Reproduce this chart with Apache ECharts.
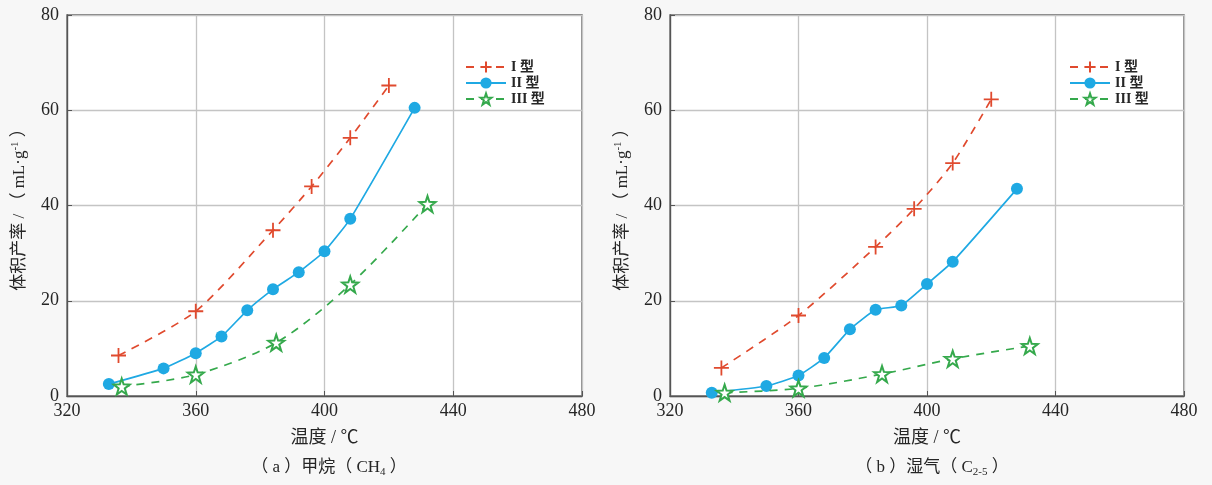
<!DOCTYPE html>
<html>
<head>
<meta charset="utf-8">
<script src="https://cdn.jsdelivr.net/npm/echarts@6/dist/echarts.min.js"></script>
<style>
  html, body { margin: 0; padding: 0; background: #f7f7f7; }
  #chart { width: 1212px; height: 485px; }
</style>
</head>
<body>
<div id="chart"></div>
<script>
// Volume yield (mL/g) versus temperature for three kerogen types
const xTicks = [320, 360, 400, 440, 480];
const yTicks = [0, 20, 40, 60, 80];
const seriesNames = ['I 型', 'II 型', 'III 型'];

// (a) methane, CH4
const ch4TempI = [336, 360, 384, 396, 408, 420];
const ch4YieldI = [8.5, 17.8, 34.8, 44.0, 54.2, 65.2];
const ch4TempII = [333, 350, 360, 368, 376, 384, 392, 400, 408, 428];
const ch4YieldII = [2.5, 5.8, 9.0, 12.5, 18.0, 22.4, 26.0, 30.4, 37.2, 60.5];
const ch4TempIII = [337, 360, 385, 408, 432];
const ch4YieldIII = [2.0, 4.5, 11.2, 23.4, 40.3];

// (b) wet gas, C2-5
const wetTempI = [336, 360, 384, 396, 408, 420];
const wetYieldI = [5.9, 16.9, 31.3, 39.3, 48.9, 62.3];
const wetTempII = [333, 350, 360, 368, 376, 384, 392, 400, 408, 428];
const wetYieldII = [0.7, 2.1, 4.3, 8.0, 14.0, 18.1, 19.0, 23.5, 28.2, 43.5];
const wetTempIII = [337, 360, 386, 408, 432];
const wetYieldIII = [0.7, 1.6, 4.6, 7.8, 10.5];

const serif = '"Liberation Serif", "Noto Sans CJK SC", serif';
const TEXT = '#262626';
const RED = '#e04a2e', BLUE = '#1fa9e3', GREEN = '#35a94c';
const plusPath = 'path://M5,0 L5,10 M0,5 L10,5';
const starPath = 'path://M50,0 L61.8,36.2 L100,38.2 L69.1,61.8 L80.9,100 L50,77.6 L19.1,100 L30.9,61.8 L0,38.2 L38.2,36.2 Z';

function pairs(xs, ys) { return xs.map((x, i) => [x, ys[i]]); }

const grids = [
  { left: 67, top: 15, width: 515, height: 381 },
  { left: 670, top: 15, width: 514, height: 381 }
];

function xAxis(i) {
  return {
    type: 'value', gridIndex: i, min: xTicks[0], max: xTicks[xTicks.length - 1],
    interval: xTicks[1] - xTicks[0],
    name: '温度 / ℃', nameLocation: 'middle', nameGap: 33,
    nameTextStyle: { fontFamily: serif, fontSize: 18, color: TEXT },
    axisLine: { show: true, lineStyle: { color: '#555', width: 1.3 } },
    axisTick: { show: true, inside: true, length: 5, lineStyle: { color: '#555' } },
    axisLabel: { fontFamily: serif, fontSize: 18, color: TEXT, margin: 6 },
    splitLine: { show: true, lineStyle: { color: '#c4c4c4', width: 1.3 } }
  };
}
function yAxis(i) {
  return {
    type: 'value', gridIndex: i, min: yTicks[0], max: yTicks[yTicks.length - 1],
    interval: yTicks[1] - yTicks[0],
    name: '体积产率 / （ mL·g{sup|-1} ）', nameLocation: 'middle', nameGap: 38,
    nameTextStyle: {
      fontFamily: serif, fontSize: 17, color: TEXT,
      rich: { sup: { fontFamily: serif, fontSize: 11, color: TEXT, verticalAlign: 'top', padding: [0, 0, 8, 0] } }
    },
    axisLine: { show: true, lineStyle: { color: '#555', width: 1.3 } },
    axisTick: { show: true, inside: true, length: 5, lineStyle: { color: '#555' } },
    axisLabel: { fontFamily: serif, fontSize: 18, color: TEXT, margin: 8 },
    splitLine: { show: true, lineStyle: { color: '#c4c4c4', width: 1.3 } }
  };
}

function seriesFor(i, tI, vI, tII, vII, tIII, vIII) {
  return [
    {
      name: seriesNames[0], type: 'line', xAxisIndex: i, yAxisIndex: i,
      data: pairs(tI, vI), smooth: 0.25,
      symbol: plusPath, symbolSize: 15,
      lineStyle: { color: RED, width: 1.7, type: [8, 7] },
      itemStyle: { color: RED, borderColor: RED, borderWidth: 1.8 },
      z: 3
    },
    {
      name: seriesNames[1], type: 'line', xAxisIndex: i, yAxisIndex: i,
      data: pairs(tII, vII), smooth: 0.15,
      symbol: 'circle', symbolSize: 12,
      lineStyle: { color: BLUE, width: 1.7 },
      itemStyle: { color: BLUE, borderWidth: 0 },
      z: 2
    },
    {
      name: seriesNames[2], type: 'line', xAxisIndex: i, yAxisIndex: i,
      data: pairs(tIII, vIII), smooth: 0.3,
      symbol: starPath, symbolSize: 16,
      lineStyle: { color: GREEN, width: 1.7, type: [8, 7] },
      itemStyle: { color: '#ffffff', borderColor: GREEN, borderWidth: 2 },
      z: 3
    }
  ];
}

function legend(left) {
  return {
    data: seriesNames,
    left: left, top: 55, orient: 'vertical', itemGap: 2, itemWidth: 40, itemHeight: 14,
    textStyle: { fontFamily: serif, fontSize: 14, fontWeight: 'bold', color: TEXT }
  };
}

const subStyle = {
  fontFamily: serif, fontSize: 17, fontWeight: 'normal', color: TEXT,
  rich: { sub: { fontFamily: serif, fontSize: 11, color: TEXT, verticalAlign: 'bottom', padding: [9, 0, 0, 0] } }
};

const chart = echarts.init(document.getElementById('chart'), null, { renderer: 'canvas' });
const option = {
  backgroundColor: '#f7f7f7',
  animation: false,
  grid: grids.map(g => Object.assign({ show: true, backgroundColor: '#ffffff', borderColor: '#555', borderWidth: 1.3 }, g)),
  xAxis: [xAxis(0), xAxis(1)],
  yAxis: [yAxis(0), yAxis(1)],
  legend: [legend(460), legend(1064)],
  title: [
    { text: '（ a ）甲烷（ CH{sub|4} ）', left: 324, top: 453, textAlign: 'center', textStyle: subStyle },
    { text: '（ b ）湿气（ C{sub|2-5} ）', left: 927, top: 453, textAlign: 'center', textStyle: subStyle }
  ],
  series: [
    ...seriesFor(0, ch4TempI, ch4YieldI, ch4TempII, ch4YieldII, ch4TempIII, ch4YieldIII),
    ...seriesFor(1, wetTempI, wetYieldI, wetTempII, wetYieldII, wetTempIII, wetYieldIII)
  ]
};
chart.setOption(option);
</script>
</body>
</html>
